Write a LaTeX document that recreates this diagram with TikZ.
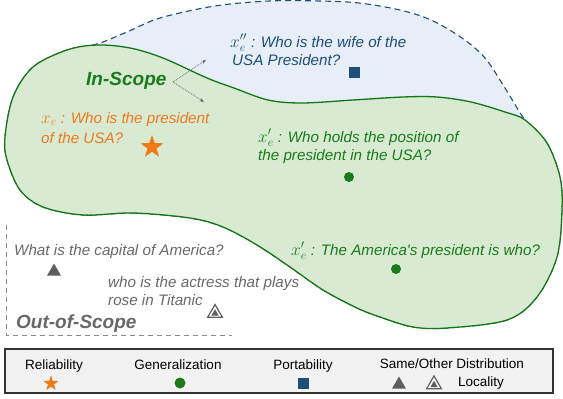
\documentclass[tikz,border=0pt]{standalone}
\usepackage{fontspec}
\setmainfont{Liberation Sans}
\usetikzlibrary{shapes.geometric,arrows.meta}
\definecolor{gfill}{HTML}{D9EAD3}
\definecolor{gline}{HTML}{167516}
\definecolor{bfill}{HTML}{E7EEF8}
\definecolor{bline}{HTML}{1F4E79}
\definecolor{orng}{HTML}{F07A1A}
\definecolor{gtext}{HTML}{1B7A1B}
\definecolor{graytext}{HTML}{686868}
\definecolor{trigray}{HTML}{5F5F5F}
\definecolor{legfill}{HTML}{F2F2F2}
\definecolor{legline}{HTML}{333333}
\definecolor{oosgray}{HTML}{8A8A8A}
\newcommand\mathlbl[1]{{\fontsize{18.5}{18.5}\selectfont$#1$}}
\tikzset{
  qtext/.style={font=\fontsize{15.2}{18}\selectfont\itshape, anchor=base west, inner sep=0pt},
  scopetext/.style={font=\fontsize{19}{22}\selectfont\bfseries\itshape, anchor=base west, inner sep=0pt},
  legtext/.style={font=\fontsize{13.5}{16}\selectfont, anchor=base, inner sep=0pt},
  starmark/.style={star, star points=5, star point ratio=2.5, fill=orng, inner sep=0pt, minimum size=#1},
  dotmark/.style={circle, fill=gtext, inner sep=0pt, minimum size=#1},
  sqmark/.style={rectangle, fill=bline, inner sep=0pt, minimum size=#1},
  trimark/.style={regular polygon, regular polygon sides=3, fill=trigray, inner sep=0pt, minimum size=16pt},
  tricase/.style={regular polygon, regular polygon sides=3, draw=trigray, line width=1.2pt, fill=white, inner sep=0pt, minimum size=17pt},
  trikern/.style={regular polygon, regular polygon sides=3, fill=trigray, inner sep=0pt, minimum size=8.5pt},
  inarrow/.style={draw=gray!80!black, densely dotted, line width=0.8pt, -{Stealth[length=4.5pt,width=3.5pt]}},
  oosbox/.style={draw=oosgray, dash pattern=on 5pt off 4pt, line width=0.9pt},
  legbox/.style={draw=legline, fill=legfill, line width=1.2pt}
}
\begin{document}
\begin{tikzpicture}[x=1pt,y=-1pt]
\useasboundingbox (0,0) rectangle (563,399);
% blue (portability) region
\filldraw[fill=bfill, draw=bline, line width=1.1pt, dash pattern=on 6pt off 4pt]
  plot[smooth cycle, tension=0.55] coordinates {
  (5,137) (13,97) (33,67) (67,50) (97,44) (127,32) (160,18) (215,6) (269,1)
  (320,1) (359,3) (400,10) (431,20) (462,38) (485,58) (505,88) (525,120)
  (547,143) (560,177) (562,210) (557,257) (537,297) (507,320) (447,328)
  (413,327) (380,317) (357,308) (323,290) (290,267) (257,245) (223,227)
  (190,218) (133,213) (83,215) (43,207) (20,190) (7,160)};
% green (in-scope) region
\filldraw[fill=gfill, draw=gline, line width=1.3pt]
  plot[smooth cycle, tension=0.55] coordinates {
  (5,137) (13,97) (33,67) (67,50) (97,45) (130,48) (163,58) (207,78)
  (234,88) (268,100) (302,103) (353,100) (403,97) (437,97) (471,102)
  (505,112) (525,120) (547,143) (560,177) (562,210) (557,257) (537,297)
  (507,320) (447,328) (413,327) (380,317) (357,308) (323,290) (290,267)
  (257,245) (223,227) (190,218) (133,213) (83,215) (43,207) (20,190) (7,160)};
% out-of-scope dashed frame
\draw[oosbox] (6,225) -- (6,335) -- (232,335);

% In-Scope label and arrows
\node[scopetext, text=gtext] (inscope) at (86,85) {In-Scope};
\coordinate (isfrom) at (173,82);
\coordinate (isto1) at (206,60);
\coordinate (isto2) at (204,102);
\draw[inarrow] (isfrom) -- (isto1);
\draw[inarrow] (isfrom) -- (isto2);

% portability
\node[qtext, text=bline] (port1) at (230,47) {\mathlbl{x''_e} : Who is the wife of the};
\node[qtext, text=bline] (port2) at (232,65) {USA President?};
\node[sqmark=11pt] (portsq) at (354,72) {};

% reliability
\node[qtext, text=orng] (rel1) at (41,123) {\mathlbl{x_e} : Who is the president};
\node[qtext, text=orng] (rel2) at (41,143) {of the USA?};
\node[starmark=24pt] (relstar) at (152,147) {};

% generalization
\node[qtext, text=gtext] (gen1) at (258,142) {\mathlbl{x'_e} : Who holds the position of};
\node[qtext, text=gtext] (gen2) at (258,160) {the president in the USA?};
\node[dotmark=10pt] (gendot1) at (349,177) {};
\node[qtext, text=gtext] (gen3) at (291,255) {\mathlbl{x'_e} : The America\textquotesingle s president is who?};
\node[dotmark=10pt] (gendot2) at (396,269) {};

% locality
\node[qtext, text=graytext] (loc1) at (14,255) {What is the capital of America?};
\node[trimark] (loctri1) at (54,271.5) {};
\node[qtext, text=graytext] (loc2) at (108,287) {who is the actress that plays};
\node[qtext, text=graytext] (loc3) at (108,305) {rose in Titanic};
\node[tricase] (loctri2o) at (215,313) {};
\node[trikern] (loctri2i) at (215,313.5) {};
\node[scopetext, text=graytext] (outscope) at (16,328) {Out-of-Scope};

% legend
\draw[legbox] (5,349) rectangle (553,393);
\node[legtext] (lgrel) at (54,369) {Reliability};
\node[starmark=16pt] (lgstar) at (51,383.5) {};
\node[legtext] (lggen) at (178,369) {Generalization};
\node[dotmark=11pt] (lgdot) at (180,383) {};
\node[legtext] (lgport) at (303,369) {Portability};
\node[sqmark=11pt] (lgsq) at (303,383) {};
\node[legtext] (lgdist) at (452,368) {Same/Other Distribution};
\node[trimark] (lgtri) at (399,384.5) {};
\node[tricase] (lgdto) at (434,384.5) {};
\node[trikern] (lgdti) at (434,385) {};
\node[legtext, anchor=base west] (lgloc) at (458,386) {Locality};
\end{tikzpicture}
\end{document}
